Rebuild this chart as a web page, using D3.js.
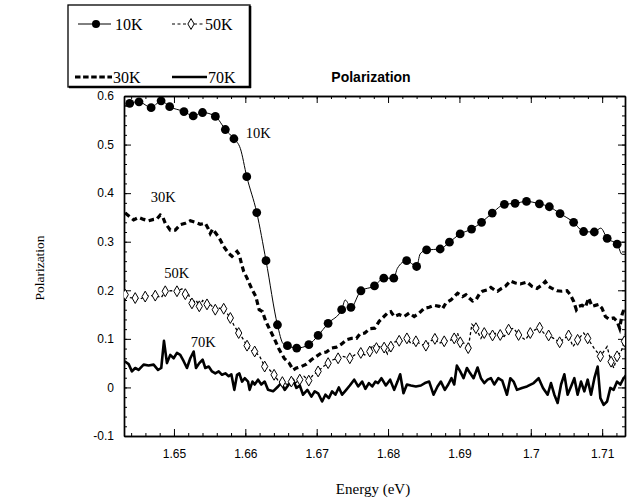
<!DOCTYPE html>
<html><head><meta charset="utf-8">
<script src="https://cdn.jsdelivr.net/npm/d3@7"></script>
<style>body{margin:0;background:#fff}svg{display:block}</style>
</head><body>
<svg id="c" width="640" height="502"></svg>
<script>
// ---- data ----
const xTicks = [1.65, 1.66, 1.67, 1.68, 1.69, 1.70, 1.71];
const yTicks = [-0.1, 0, 0.1, 0.2, 0.3, 0.4, 0.5, 0.6];
const seriesNames = ["10K", "50K", "30K", "70K"];

// 10K markers
const e10 = [1.6438,1.6451,1.6468,1.6482,1.6494,1.6514,1.6527,1.6540,1.6558,1.6572,1.6584,1.6602,1.6616,1.6629,1.6645,1.6659,1.6672,1.6689,1.6702,1.6716,1.6735,1.6748,1.6762,1.6781,1.6794,1.6808,1.6826,1.6840,1.6854,1.6873,1.6886,1.6901,1.6917,1.6931,1.6946,1.6963,1.6978,1.6994,1.7012,1.7026,1.7041,1.7060,1.7074,1.7089,1.7107,1.7121];
const p10 = [0.585,0.588,0.576,0.590,0.578,0.568,0.559,0.566,0.558,0.531,0.512,0.434,0.360,0.261,0.129,0.086,0.081,0.088,0.107,0.132,0.160,0.165,0.199,0.209,0.225,0.225,0.261,0.249,0.283,0.285,0.299,0.316,0.326,0.340,0.359,0.377,0.379,0.383,0.378,0.372,0.358,0.340,0.321,0.320,0.307,0.295];
// 10K extra line points between markers
const e10w = [1.6431,1.6593,1.6653,1.6740,1.6813,1.6845,1.7098,1.7128,1.7134];
const p10w = [0.580,0.492,0.090,0.180,0.245,0.275,0.328,0.274,0.274];

const e30 = [1.64317,1.64435,1.64505,1.64575,1.64645,1.64715,1.64762,1.64808,1.64841,1.64878,1.64948,1.65018,1.65088,1.65159,1.65229,1.65299,1.65369,1.65439,1.65477,1.65509,1.65543,1.65589,1.65649,1.65697,1.65767,1.65813,1.65884,1.65916,1.65944,1.65977,1.66024,1.66090,1.66147,1.66194,1.66240,1.66287,1.66334,1.66404,1.66475,1.66545,1.66615,1.66672,1.66716,1.66785,1.66856,1.66926,1.66996,1.67066,1.67136,1.67206,1.67276,1.67346,1.67417,1.67487,1.67557,1.67604,1.67674,1.67744,1.67814,1.67875,1.67922,1.67992,1.68039,1.68086,1.68156,1.68226,1.68296,1.68366,1.68436,1.68506,1.68576,1.68647,1.68717,1.68763,1.68811,1.68881,1.68927,1.68974,1.69044,1.69091,1.69137,1.69184,1.69231,1.69278,1.69324,1.69394,1.69441,1.69488,1.69534,1.69590,1.69642,1.69713,1.69783,1.69853,1.69947,1.70017,1.70087,1.70157,1.70203,1.70250,1.70297,1.70367,1.70437,1.70507,1.70554,1.70601,1.70638,1.70671,1.70718,1.70764,1.70811,1.70858,1.70905,1.70951,1.70998,1.71045,1.71091,1.71161,1.71209,1.71245,1.71279,1.71311,1.7134];
const p30 = [0.359,0.345,0.350,0.346,0.343,0.346,0.347,0.355,0.352,0.338,0.324,0.324,0.335,0.338,0.343,0.340,0.336,0.338,0.328,0.317,0.326,0.317,0.304,0.290,0.276,0.270,0.280,0.273,0.256,0.239,0.225,0.203,0.187,0.160,0.156,0.136,0.122,0.101,0.078,0.060,0.050,0.036,0.040,0.043,0.048,0.057,0.064,0.071,0.073,0.081,0.083,0.089,0.098,0.101,0.101,0.110,0.112,0.121,0.122,0.136,0.143,0.153,0.156,0.146,0.150,0.146,0.153,0.146,0.153,0.163,0.165,0.169,0.167,0.162,0.174,0.180,0.187,0.194,0.187,0.191,0.184,0.178,0.180,0.192,0.198,0.201,0.206,0.201,0.198,0.204,0.208,0.219,0.215,0.213,0.217,0.208,0.204,0.211,0.218,0.208,0.204,0.199,0.198,0.199,0.191,0.177,0.160,0.167,0.169,0.165,0.184,0.167,0.169,0.171,0.163,0.146,0.141,0.143,0.136,0.122,0.150,0.163,0.165];

const e50 = [1.64317,1.64387,1.64457,1.64527,1.64597,1.64667,1.64738,1.64822,1.64878,1.64962,1.65042,1.65112,1.65159,1.65206,1.65252,1.65309,1.65355,1.65402,1.65463,1.65509,1.65579,1.65635,1.65697,1.65743,1.65790,1.65837,1.65907,1.65954,1.66024,1.66084,1.66131,1.66201,1.66271,1.66342,1.66403,1.66459,1.66519,1.66589,1.66645,1.66701,1.66763,1.66823,1.66889,1.66950,1.67020,1.67090,1.67160,1.67230,1.67300,1.67370,1.67464,1.67534,1.67618,1.67674,1.67744,1.67791,1.67837,1.67875,1.67945,1.67992,1.68039,1.68086,1.68156,1.68203,1.68264,1.68329,1.68390,1.68460,1.68530,1.68600,1.68656,1.68717,1.68787,1.68857,1.68927,1.68974,1.69011,1.69067,1.69123,1.69175,1.69231,1.69301,1.69348,1.69418,1.69464,1.69512,1.69572,1.69628,1.69689,1.69759,1.69829,1.69923,1.69993,1.70063,1.70124,1.70180,1.70250,1.70320,1.70404,1.70470,1.70530,1.70592,1.70656,1.70741,1.70797,1.70881,1.70975,1.71069,1.71125,1.71163,1.71209,1.71265,1.71311,1.7134];
const p50 = [0.191,0.185,0.184,0.182,0.187,0.189,0.189,0.185,0.198,0.199,0.198,0.203,0.192,0.191,0.173,0.180,0.167,0.179,0.171,0.171,0.160,0.163,0.162,0.153,0.143,0.129,0.112,0.103,0.086,0.076,0.074,0.064,0.043,0.036,0.026,0.014,0.011,0.006,0.012,0.009,0.016,0.023,0.014,0.026,0.033,0.043,0.050,0.057,0.060,0.064,0.060,0.067,0.071,0.067,0.074,0.088,0.081,0.084,0.082,0.069,0.084,0.093,0.096,0.096,0.101,0.089,0.095,0.089,0.086,0.096,0.100,0.091,0.095,0.096,0.101,0.112,0.093,0.091,0.081,0.130,0.122,0.101,0.112,0.110,0.107,0.112,0.108,0.105,0.119,0.122,0.108,0.098,0.112,0.119,0.123,0.112,0.107,0.101,0.093,0.101,0.107,0.084,0.098,0.112,0.101,0.082,0.064,0.084,0.053,0.040,0.064,0.074,0.095,0.122];

const e70 = [1.64309,1.64365,1.64411,1.64457,1.64505,1.64575,1.64645,1.64715,1.64776,1.64822,1.64860,1.64902,1.64948,1.64996,1.65042,1.65088,1.65136,1.65182,1.65229,1.65276,1.65309,1.65355,1.65402,1.65439,1.65487,1.65533,1.65579,1.65627,1.65673,1.65720,1.65767,1.65804,1.65846,1.65884,1.65916,1.65954,1.65992,1.66038,1.66060,1.66100,1.66131,1.66178,1.66224,1.66271,1.66318,1.66389,1.66459,1.66505,1.66552,1.66609,1.66669,1.66716,1.66763,1.66809,1.66870,1.66926,1.66973,1.67020,1.67076,1.67122,1.67170,1.67216,1.67262,1.67310,1.67356,1.67402,1.67464,1.67525,1.67581,1.67637,1.67683,1.67731,1.67778,1.67824,1.67860,1.67907,1.67969,1.68029,1.68086,1.68132,1.68170,1.68216,1.68264,1.68320,1.68390,1.68460,1.68516,1.68576,1.68637,1.68693,1.68740,1.68796,1.68843,1.68889,1.68927,1.68964,1.69011,1.69058,1.69105,1.69151,1.69198,1.69254,1.69301,1.69348,1.69394,1.69441,1.69488,1.69544,1.69600,1.69666,1.69713,1.69759,1.69806,1.69876,1.69947,1.70040,1.70110,1.70171,1.70236,1.70283,1.70330,1.70376,1.70424,1.70470,1.70516,1.70564,1.70610,1.70656,1.70704,1.70750,1.70797,1.70844,1.70891,1.70937,1.70975,1.71021,1.71069,1.71115,1.71161,1.71209,1.71255,1.71301,1.7134];
const p70 = [0.054,0.048,0.033,0.040,0.036,0.047,0.045,0.047,0.036,0.040,0.096,0.050,0.067,0.060,0.071,0.067,0.054,0.040,0.060,0.074,0.040,0.050,0.057,0.040,0.043,0.033,0.029,0.033,0.026,0.029,0.023,0.027,-0.005,0.026,0.029,0.012,0.019,0.012,-0.005,0.012,0.006,0.016,0.006,0.012,-0.005,-0.008,0.002,0.009,-0.005,0.006,0.016,-0.001,0.004,-0.015,-0.005,-0.019,-0.008,-0.012,-0.029,-0.015,-0.022,-0.008,-0.015,0.000,-0.015,-0.007,0.004,0.016,0.002,0.012,-0.003,0.009,0.002,0.012,0.009,0.019,0.004,0.016,-0.005,0.012,0.027,-0.012,0.006,0.004,0.002,0.004,0.009,0.012,-0.015,0.002,0.012,-0.005,0.006,0.019,0.006,0.045,0.033,0.019,0.040,0.029,0.019,0.041,0.019,0.009,0.016,0.019,0.006,0.019,0.014,-0.015,0.019,0.012,-0.005,-0.001,0.002,0.009,0.019,-0.001,-0.015,0.009,-0.015,-0.032,0.006,0.027,-0.015,0.002,0.019,-0.015,0.012,-0.008,0.016,-0.015,0.019,0.043,-0.022,-0.036,-0.029,-0.001,-0.005,0.012,0.006,0.019,0.026];

// ---- drawing ----
const svg = d3.select("#c");
const L = 124, R = 625, T = 96, B = 436;
const x = d3.scaleLinear().domain([1.643, 1.7132]).range([L, R]);
const y = d3.scaleLinear().domain([-0.1, 0.6]).range([B, T]);
const sans = "'Liberation Sans', Arial, sans-serif";
const serif = "'Liberation Serif', 'Times New Roman', serif";

const xMinor = d3.range(1.644, 1.7132, 0.002);
const yMinor = d3.range(-0.1, 0.6001, 0.02);

function styleAxis(g) {
  g.selectAll("path.domain").attr("stroke", "#000").attr("stroke-width", 1.4);
  g.selectAll(".tick line").attr("stroke", "#000").attr("stroke-width", 1);
}
const fmtX = d => d3.format(".2f")(d).replace(/0$/, "");
const fmtY = d => (Math.abs(d) < 1e-9 ? "0" : (d < 0 ? "-" : "") + Math.abs(d).toFixed(1));

// bottom
svg.append("g").attr("transform", `translate(0,${B})`)
  .call(d3.axisBottom(x).tickValues(xMinor).tickSize(-3).tickSizeOuter(0).tickFormat(""))
  .call(styleAxis);
svg.append("g").attr("transform", `translate(0,${B})`)
  .call(d3.axisBottom(x).tickValues(xTicks).tickSize(-7).tickSizeOuter(0).tickPadding(13).tickFormat(fmtX))
  .call(styleAxis)
  .call(g => g.selectAll("text").attr("font-family", sans).attr("font-size", 12).attr("fill", "#000"));
// top
svg.append("g").attr("transform", `translate(0,${T})`)
  .call(d3.axisTop(x).tickValues(xMinor).tickSize(-3).tickSizeOuter(0).tickFormat(""))
  .call(styleAxis);
svg.append("g").attr("transform", `translate(0,${T})`)
  .call(d3.axisTop(x).tickValues(xTicks).tickSize(-7).tickSizeOuter(0).tickFormat(""))
  .call(styleAxis);
// left
svg.append("g").attr("transform", `translate(${L},0)`)
  .call(d3.axisLeft(y).tickValues(yMinor).tickSize(-3).tickSizeOuter(0).tickFormat(""))
  .call(styleAxis);
svg.append("g").attr("transform", `translate(${L},0)`)
  .call(d3.axisLeft(y).tickValues(yTicks).tickSize(-7).tickSizeOuter(0).tickPadding(10).tickFormat(fmtY))
  .call(styleAxis)
  .call(g => g.selectAll("text").attr("font-family", sans).attr("font-size", 12).attr("fill", "#000"));
// right
svg.append("g").attr("transform", `translate(${R},0)`)
  .call(d3.axisRight(y).tickValues(yMinor).tickSize(-3).tickSizeOuter(0).tickFormat(""))
  .call(styleAxis);
svg.append("g").attr("transform", `translate(${R},0)`)
  .call(d3.axisRight(y).tickValues(yTicks).tickSize(-7).tickSizeOuter(0).tickFormat(""))
  .call(styleAxis);

// clip
svg.append("clipPath").attr("id", "clip").append("rect")
  .attr("x", L).attr("y", T).attr("width", R - L).attr("height", B - T);
const plot = svg.append("g").attr("clip-path", "url(#clip)");

const zip = (es, ps) => es.map((e, i) => ({e, p: ps[i]}));
const lineLin = d3.line().x(d => x(d.e)).y(d => y(d.p));
const lineSmooth = d3.line().x(d => x(d.e)).y(d => y(d.p)).curve(d3.curveMonotoneX);

const d70 = zip(e70, p70), d50 = zip(e50, p50), d30 = zip(e30, p30);
const d10m = zip(e10, p10);
const d10 = d10m.concat(zip(e10w, p10w)).sort((a, b) => a.e - b.e);

plot.append("path").datum(d70).attr("d", lineLin)
  .attr("fill", "none").attr("stroke", "#000").attr("stroke-width", 2.6).attr("stroke-linejoin", "round");
plot.append("path").datum(d50).attr("d", lineLin)
  .attr("fill", "none").attr("stroke", "#000").attr("stroke-width", 1.3).attr("stroke-dasharray", "3,2.5");
plot.append("path").datum(d30).attr("d", lineLin)
  .attr("fill", "none").attr("stroke", "#000").attr("stroke-width", 3.2).attr("stroke-dasharray", "5.5,3.5");
plot.append("path").datum(d10).attr("d", lineSmooth)
  .attr("fill", "none").attr("stroke", "#000").attr("stroke-width", 1);

const diamond = d3.symbol().type(d3.symbolDiamond).size(34);
plot.selectAll("path.dm").data(d50.filter((d, i) => i % 2 === 0)).join("path")
  .attr("class", "dm").attr("d", diamond)
  .attr("transform", d => `translate(${x(d.e)},${y(d.p)})`)
  .attr("fill", "#fff").attr("stroke", "#000").attr("stroke-width", 1);
plot.selectAll("circle.m10").data(d10m).join("circle")
  .attr("class", "m10").attr("cx", d => x(d.e)).attr("cy", d => y(d.p)).attr("r", 4.4).attr("fill", "#000");

// curve labels
const curveLabels = [
  {t: "10K", e: 1.6618, p: 0.513},
  {t: "30K", e: 1.6485, p: 0.382},
  {t: "50K", e: 1.6504, p: 0.225},
  {t: "70K", e: 1.6541, p: 0.083}
];
svg.selectAll("text.cl").data(curveLabels).join("text").attr("class", "cl")
  .attr("x", d => x(d.e)).attr("y", d => y(d.p)).attr("text-anchor", "middle")
  .attr("font-family", serif).attr("font-size", 14.5).attr("fill", "#000").text(d => d.t);

// titles
svg.append("text").attr("x", 371).attr("y", 82).attr("text-anchor", "middle")
  .attr("font-family", sans).attr("font-weight", "bold").attr("font-size", 14).text("Polarization");
svg.append("text").attr("transform", "translate(44,268) rotate(-90)").attr("text-anchor", "middle")
  .attr("font-family", serif).attr("font-size", 13.5).text("Polarization");
svg.append("text").attr("x", 373).attr("y", 494).attr("text-anchor", "middle")
  .attr("font-family", serif).attr("font-size", 15).text("Energy (eV)");

// legend
const lg = svg.append("g");
lg.append("rect").attr("x", 68).attr("y", 5).attr("width", 182).attr("height", 82)
  .attr("fill", "#fff").attr("stroke", "#000").attr("stroke-width", 1.3);
lg.append("line").attr("x1", 250).attr("x2", 250).attr("y1", 6).attr("y2", 88).attr("stroke", "#000").attr("stroke-width", 2.6);
lg.append("line").attr("x1", 69).attr("x2", 251).attr("y1", 87).attr("y2", 87).attr("stroke", "#000").attr("stroke-width", 2.6);

const legendItems = [
  {name: seriesNames[0], x1: 78, x2: 111, yy: 24, w: 1, dash: null, mk: "circle", tx: 115},
  {name: seriesNames[1], x1: 172, x2: 204, yy: 24, w: 1.2, dash: "3,2.5", mk: "diamond", tx: 205},
  {name: seriesNames[2], x1: 75, x2: 112, yy: 77, w: 3.2, dash: "5.5,2.6", mk: null, tx: 113},
  {name: seriesNames[3], x1: 172, x2: 207, yy: 77, w: 2.6, dash: null, mk: null, tx: 208}
];
legendItems.forEach(it => {
  lg.append("line").attr("x1", it.x1).attr("x2", it.x2).attr("y1", it.yy).attr("y2", it.yy)
    .attr("stroke", "#000").attr("stroke-width", it.w).attr("stroke-dasharray", it.dash);
  if (it.mk === "circle") lg.append("circle").attr("cx", 96).attr("cy", it.yy).attr("r", 4).attr("fill", "#000");
  if (it.mk === "diamond") lg.append("path").attr("d", diamond).attr("transform", `translate(191,${it.yy})`)
    .attr("fill", "#fff").attr("stroke", "#000");
  lg.append("text").attr("x", it.tx).attr("y", it.yy + 5.5).attr("font-family", serif).attr("font-size", 16)
    .text(it.name);
});
</script>
</body></html>
